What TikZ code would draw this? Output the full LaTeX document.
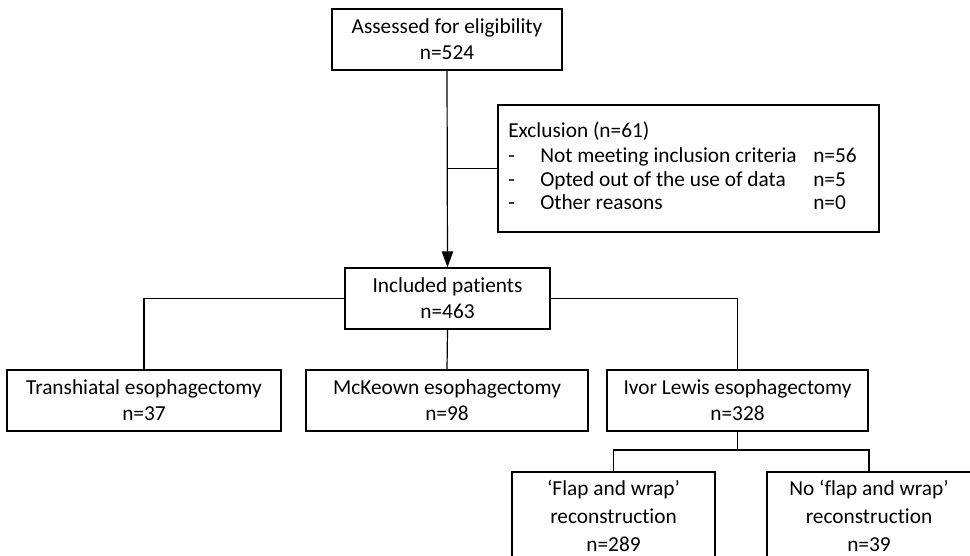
\documentclass[tikz,border=0pt]{standalone}
\usepackage{fontspec}
\setmainfont{Carlito}[Ligatures=NoCommon]
\usetikzlibrary{arrows.meta}
\begin{document}
\begin{tikzpicture}[x=0.75pt,y=-0.75pt,
  every node/.style={font=\fontsize{16}{19.5}\selectfont},
  box/.style={draw=black, line width=0.9pt, align=center, inner sep=0pt},
  conn/.style={draw=black, line width=0.9pt},
  rowtext/.style={anchor=base west, inner sep=0pt}]
\useasboundingbox (0,0) rectangle (970,556);
\clip (0,0) rectangle (970,556);
% boxes
\node[box, minimum width=230*0.75pt, minimum height=61*0.75pt] (assess) at (447,39.5) {Assessed for eligibility\\n=524};
\node[box, minimum width=381*0.75pt, minimum height=127*0.75pt] (excl) at (688.5,168.5) {};
\node[box, minimum width=205*0.75pt, minimum height=61*0.75pt] (incl) at (447.5,298.5) {Included patients\\n=463};
\node[box, minimum width=274*0.75pt, minimum height=61*0.75pt] (trans) at (144,400.5) {Transhiatal esophagectomy\\n=37};
\node[box, minimum width=282*0.75pt, minimum height=61*0.75pt] (mck) at (447,400.5) {McKeown esophagectomy\\n=98};
\node[box, minimum width=261*0.75pt, minimum height=61*0.75pt] (ivor) at (737.5,400.5) {Ivor Lewis esophagectomy\\n=328};
\node[box, minimum width=203*0.75pt, minimum height=88*0.75pt, font=\fontsize{16}{21}\selectfont] (flap) at (613.5,516) {‘Flap and wrap’\\reconstruction\\n=289};
\node[box, minimum width=204*0.75pt, minimum height=88*0.75pt, font=\fontsize{16}{21}\selectfont] (noflap) at (869,516) {No ‘flap and wrap’\\reconstruction\\n=39};
% exclusion text
\node[rowtext] (exh) at (508,138) {Exclusion (n=61)};
\node[rowtext] (d1) at (508,162.5) {-};
\node[rowtext] (t1) at (540,162.5) {Not meeting inclusion criteria};
\node[rowtext] (n1) at (813,162.5) {n=56};
\node[rowtext] (d2) at (508,186) {-};
\node[rowtext] (t2) at (540,186) {Opted out of the use of data};
\node[rowtext] (n2) at (813,186) {n=5};
\node[rowtext] (d3) at (508,209.5) {-};
\node[rowtext] (t3) at (540,209.5) {Other reasons};
\node[rowtext] (n3) at (813,209.5) {n=0};
% connectors
\draw[conn, -{Triangle[length=12pt,width=8.5pt]}] (assess.south) -- (incl.north);
\draw[conn] (assess.south |- excl.west) -- (excl.west);
\draw[conn] (incl.west) -| (trans.north);
\draw[conn] (incl.south) -- (mck.north);
\draw[conn] (incl.east) -| (ivor.north);
\coordinate (j) at (737.5,450);
\draw[conn] (ivor.south) -- (j);
\draw[conn] (flap.north) |- (j) -| (noflap.north);
\end{tikzpicture}
\end{document}
